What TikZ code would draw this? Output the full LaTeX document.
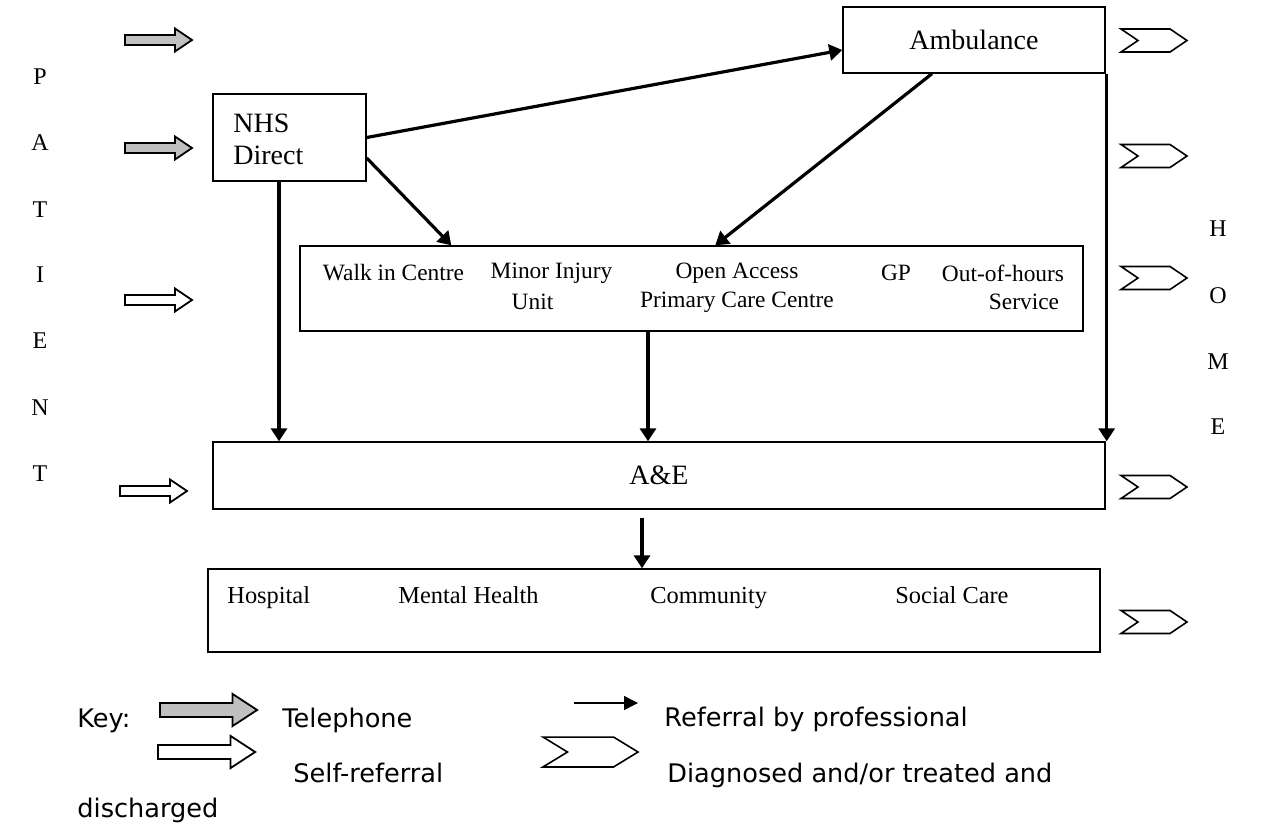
\documentclass[tikz,border=0pt]{standalone}
\usepackage{fontspec}
\setmainfont{Liberation Serif}
\newfontfamily\keyfont{DejaVu Sans}
\usetikzlibrary{arrows.meta}
\definecolor{telgray}{RGB}{192,192,192}
\tikzset{
  box/.style={draw, line width=0.7pt, inner sep=0pt, font=\fontsize{14}{16}\selectfont},
  boxtext/.style={inner sep=0pt, font=\fontsize{14}{16}\selectfont},
  mtext/.style={inner sep=0pt, font=\fontsize{11.7}{14}\selectfont},
  btext/.style={inner sep=0pt, anchor=base west, font=\fontsize{12.2}{14}\selectfont},
  side/.style={inner sep=0pt, font=\fontsize{12}{14}\selectfont},
  ktext/.style={inner sep=0pt, anchor=base west, font=\keyfont\fontsize{12.8}{15}\selectfont},
  conn/.style={line width=1.6pt, -{Triangle[length=6.5pt,width=8pt]}},
  thinconn/.style={line width=0.7pt, -{Triangle[length=7pt,width=7pt]}},
  telstyle/.style={draw, line width=0.9pt, fill=telgray, line join=miter},
  selfstyle/.style={draw, line width=0.9pt, fill=white, line join=miter},
  chevstyle/.style={draw, line width=0.8pt, fill=white, line join=miter},
  pics/blockarr/.style={code={\path[pic actions] (0,-5) -- (50,-5) -- (50,-11.5) -- (67,0) -- (50,11.5) -- (50,5) -- (0,5) -- cycle;}},
  pics/chevron/.style={code={\path[pic actions] (0,-11.5) -- (49,-11.5) -- (66,0) -- (49,11.5) -- (0,11.5) -- (17,0) -- cycle;}}
}
\begin{document}
\begin{tikzpicture}[x=0.5pt,y=-0.5pt]
\useasboundingbox (0,0) rectangle (1270,825);

% boxes
\node[box, minimum width=76.5pt, minimum height=43.5pt] (nhs) at (289.5,137.5) {};
\node[boxtext, anchor=west, align=left] (nhstext) at (233,139) {NHS\\Direct};
\node[box, minimum width=131pt, minimum height=33pt] (amb) at (974,40) {Ambulance};
\node[box, minimum width=391.5pt, minimum height=42.5pt] (mid) at (691.5,288.5) {};
\node[box, minimum width=446pt, minimum height=33.5pt] (ae) at (659,475.5) {A\&E};
\node[box, minimum width=446pt, minimum height=41.5pt] (bot) at (654,610.5) {};

% middle texts
\node[mtext] (walk) at (393.5,273) {Walk in Centre};
\node[mtext] (minor) at (551.5,273) {Minor Injury};
\node[mtext] (unit) at (532.5,302) {Unit};
\node[mtext] (open) at (737,273) {Open Access};
\node[mtext] (prim) at (737,302) {Primary Care Centre};
\node[mtext] (gp) at (896,273) {GP};
\node[mtext] (ooh) at (1003,273) {Out-of-hours};
\node[mtext] (serv) at (1024,302) {Service};

% bottom texts
\node[btext] (hosp) at (227,603) {Hospital};
\node[btext] (mental) at (398,603) {Mental Health};
\node[btext] (comm) at (650,603) {Community};
\node[btext] (social) at (895,603) {Social Care};

% connectors
\draw[conn] (nhs.east) -- ([yshift=-5pt]amb.west);
\draw[conn] ([yshift=-10.25pt]nhs.east) -- ([xshift=76pt]mid.north west);
\draw[conn] ([xshift=-21pt]amb.south) -- ([xshift=208pt]mid.north west);
\draw[conn] ([xshift=-5.25pt]nhs.south) -- ([xshift=-5.25pt]nhs.south |- ae.north);
\draw[conn] ([xshift=-21.75pt]mid.south) -- ([xshift=-21.75pt]mid.south |- ae.north);
\draw[conn] ([xshift=0.5pt]amb.south east) -- ([xshift=0.5pt]amb.south east |- ae.north);
\draw[conn] ([xshift=-8.5pt,yshift=-4pt]ae.south) -- ([xshift=-8.5pt]ae.south |- bot.north);

% PATIENT
\node[side] (p1) at (40,77) {P};
\node[side] (p2) at (40,143) {A};
\node[side] (p3) at (40,210) {T};
\node[side] (p4) at (40,275) {I};
\node[side] (p5) at (40,341) {E};
\node[side] (p6) at (40,408) {N};
\node[side] (p7) at (40,474) {T};
% HOME
\node[side] (h1) at (1218,229) {H};
\node[side] (h2) at (1218,296) {O};
\node[side] (h3) at (1218,362) {M};
\node[side] (h4) at (1218,427) {E};

% incoming arrows
\pic[telstyle] at (125,40) {blockarr};
\pic[telstyle] at (125,148) {blockarr};
\pic[selfstyle] at (125,300) {blockarr};
\pic[selfstyle] at (120,491) {blockarr};

% discharge chevrons
\pic[chevstyle] at (1121,40.5) {chevron};
\pic[chevstyle] at (1121,156) {chevron};
\pic[chevstyle] at (1121,278) {chevron};
\pic[chevstyle] at (1121,487) {chevron};
\pic[chevstyle] at (1121,622) {chevron};

% key
\node[ktext] (key) at (77,727) {Key:};
\pic[telstyle, xscale=1.45, yscale=1.4] at (160,710) {blockarr};
\node[ktext] (ktel) at (282,727) {Telephone};
\coordinate (kla) at (574,703);
\coordinate (klb) at (638,703);
\draw[thinconn] (kla) -- (klb);
\node[ktext] (kref) at (664,726) {Referral by professional};
\pic[selfstyle, xscale=1.45, yscale=1.4] at (158,752) {blockarr};
\node[ktext] (kself) at (293,782) {Self-referral};
\pic[chevstyle, xscale=1.44, yscale=1.3] at (543,752) {chevron};
\node[ktext] (kdiag) at (667,782) {Diagnosed and/or treated and};
\node[ktext] (kdis) at (77,817) {discharged};
\end{tikzpicture}
\end{document}
